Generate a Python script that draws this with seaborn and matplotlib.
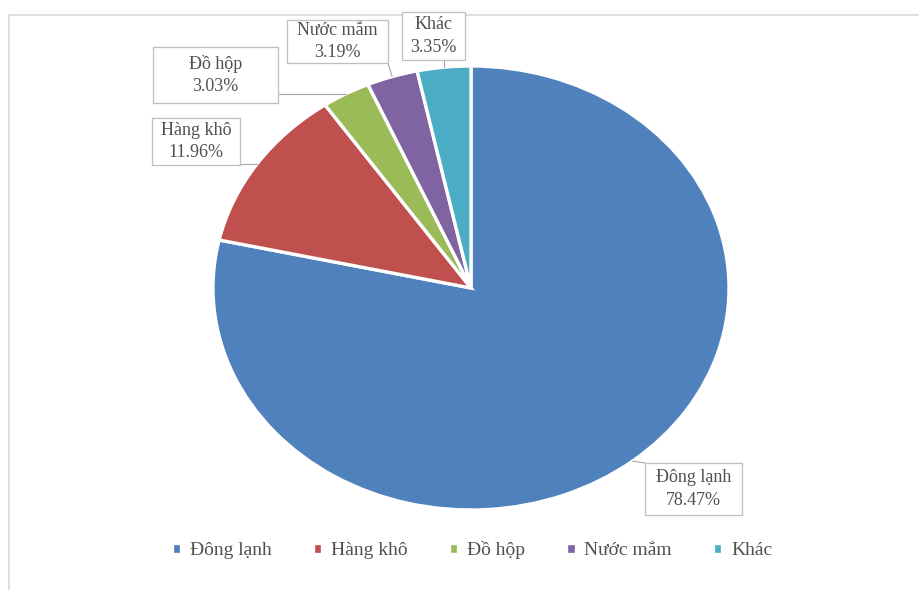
import matplotlib
matplotlib.use("Agg")
import matplotlib.pyplot as plt
from matplotlib.patches import Rectangle
from matplotlib.lines import Line2D
import numpy as np
import seaborn as sns

# Export structure by product group (%)
categories = ["Đông lạnh", "Hàng khô", "Đồ hộp", "Nước mắm", "Khác"]
shares = [78.47, 11.96, 3.03, 3.19, 3.35]
value_labels = ["78.47%", "11.96%", "3.03%", "3.19%", "3.35%"]

sns.set_theme(style="white")
plt.rcParams["font.family"] = ["Liberation Serif", "DejaVu Serif"]

colors = ["#4F81BD", "#C0504D", "#9BBB59", "#8064A2", "#4BACC6"]
text_color = "#505050"

W, H = 920, 590
fig = plt.figure(figsize=(W / 100, H / 100), dpi=100)

# pie area (slightly wider than tall)
cx, cy, rx, ry = 471, 288, 258, 222
ax = fig.add_axes([(cx - rx) / W, 1 - (cy + ry) / H, 2 * rx / W, 2 * ry / H])

wedges, _ = ax.pie(
    shares,
    colors=colors,
    startangle=90,
    counterclock=False,
    radius=1,
    wedgeprops=dict(edgecolor="white", linewidth=2.4),
)
ax.set_aspect("auto")
ax.set_xlim(-1, 1)
ax.set_ylim(-1, 1)
ax.axis("off")

# label boxes in figure pixels, top-left origin: (x0, y0, x1, y1)
label_boxes = [
    (645, 463, 742, 515),
    (152, 118, 240, 165),
    (153, 47, 278, 103),
    (287, 20, 388, 63),
    (402, 12, 465, 60),
]

to_fig = ax.transData + fig.transFigure.inverted()

for w, name, vl, (x0, y0, x1, y1) in zip(wedges, categories, value_labels, label_boxes):
    # box
    fig.add_artist(Rectangle((x0 / W, 1 - y1 / H), (x1 - x0) / W, (y1 - y0) / H,
                             transform=fig.transFigure, fc="white",
                             ec="#bfbfbf", lw=0.9, zorder=3))
    fig.text((x0 + x1) / 2 / W, 1 - (y0 + y1) / 2 / H, f"{name}\n{vl}",
             ha="center", va="center", fontsize=13, color=text_color,
             linespacing=1.4, zorder=4)
    # leader line from wedge edge (mid-angle) to the nearest point of the box
    mid = np.deg2rad((w.theta1 + w.theta2) / 2)
    fx, fy = to_fig.transform((np.cos(mid), np.sin(mid)))
    px, py = fx * W, (1 - fy) * H
    qx, qy = min(max(px, x0), x1), min(max(py, y0), y1)
    fig.add_artist(Line2D([px / W, qx / W], [1 - py / H, 1 - qy / H],
                          transform=fig.transFigure, color="#a6a6a6",
                          lw=0.8, zorder=2))

fig.legend(
    wedges,
    categories,
    loc="center",
    bbox_to_anchor=(472 / W, 1 - 550 / H),
    ncol=5,
    frameon=False,
    fontsize=14,
    handlelength=0.5,
    handleheight=0.5,
    handletextpad=0.45,
    columnspacing=2.1,
    labelcolor=text_color,
)

# light chart-area border
fig.add_artist(Rectangle((8.5 / W, -0.02), 1.0, 1 - 14.5 / H + 0.02,
                         transform=fig.transFigure, fill=False,
                         ec="#d9d9d9", lw=1.2, zorder=1))

fig.savefig("out.png", dpi=100)
